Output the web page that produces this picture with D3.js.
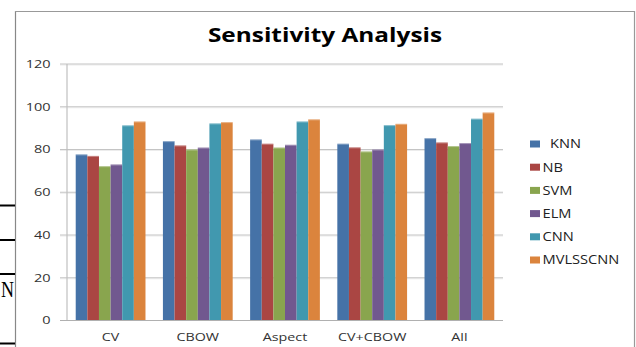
<!DOCTYPE html>
<html><head><meta charset="utf-8">
<script src="https://cdn.jsdelivr.net/npm/d3@7"></script>
<style>
html,body{margin:0;padding:0;background:#fff;}
svg{display:block;}
text{font-family:"Open Sans",sans-serif;}
</style></head>
<body>
<svg id="chart" width="636" height="347"></svg>
<script>
const categories = ["CV","CBOW","Aspect","CV+CBOW","All"];
const seriesNames = ["KNN","NB","SVM","ELM","CNN","MVLSSCNN"];
const legendLabels = ["  KNN","NB","SVM","ELM","CNN","MVLSSCNN"];
const KNN      = [77.7, 83.9, 84.7, 82.7, 85.3];
const NB       = [77.0, 81.9, 82.7, 81.0, 83.3];
const SVM      = [72.2, 80.0, 80.9, 79.1, 81.6];
const ELM      = [73.0, 80.9, 82.2, 80.0, 83.0];
const CNN      = [91.3, 92.2, 93.1, 91.4, 94.4];
const MVLSSCNN = [93.1, 92.8, 94.1, 92.0, 97.3];
const seriesValues = [KNN, NB, SVM, ELM, CNN, MVLSSCNN];
const colors = ["#4572A7","#AA4643","#89A54E","#71588F","#4198AF","#DB843D"];
const yTicks = [0,20,40,60,80,100,120];
const title = "Sensitivity Analysis";

(function(){
const svg = d3.select("#chart");

// page decorations (frame from the source document)
const deco = svg.append("g").attr("stroke","#000").attr("stroke-width",1.2);
deco.append("line").attr("x1",15.5).attr("x2",15.5).attr("y1",11).attr("y2",347).attr("stroke","#888");
deco.append("line").attr("x1",15).attr("x2",634.5).attr("y1",11.5).attr("y2",11.5).attr("stroke","#999");
deco.append("line").attr("x1",634.5).attr("x2",634.5).attr("y1",11).attr("y2",347).attr("stroke","#999");
[205.5,240,274,343.5].forEach(yy=>{
  deco.append("line").attr("x1",0).attr("x2",15).attr("y1",yy).attr("y2",yy).attr("stroke-width",2);
});
svg.append("text").attr("x",1).attr("y",297)
  .attr("font-size",24).attr("fill","#000").attr("textLength",13).attr("lengthAdjust","spacingAndGlyphs")
  .style("font-family","'Liberation Serif',serif").text("N");

const pL = 67, pR = 503, pT = 64, pB = 320.5;
const x0 = d3.scaleBand().domain(categories).range([pL,pR]).paddingInner(0.2).paddingOuter(0.1);
const x1 = d3.scaleBand().domain(seriesNames).range([0,x0.bandwidth()]);
const y = d3.scaleLinear().domain([0,120]).range([pB,pT]);

// gridlines
const grid = svg.append("g");
yTicks.forEach(t=>{
  if(t===0) return;
  grid.append("line").attr("x1",60).attr("x2",pR).attr("y1",y(t)+1).attr("y2",y(t)+1)
    .attr("stroke","#ececec").attr("stroke-width",1);
  grid.append("line").attr("x1",60).attr("x2",pR).attr("y1",y(t)).attr("y2",y(t))
    .attr("stroke","#c4c4c4").attr("stroke-width",1.2);
});
svg.append("line").attr("x1",pL).attr("x2",pL).attr("y1",pT).attr("y2",pB)
  .attr("stroke","#c0c0c0").attr("stroke-width",1.2);

// y tick labels
const yAxis = d3.axisLeft(y).tickValues(yTicks).tickSize(0).tickPadding(0);
const ya = svg.append("g").attr("transform",`translate(50.5,0)`).call(yAxis);
ya.select(".domain").remove();
ya.selectAll("text").attr("font-size",10.5).attr("fill","#333")
  .style("font-family","'Open Sans',sans-serif").attr("transform","scale(1.38,1)");

// bars
const groups = svg.append("g").selectAll("g").data(categories).join("g")
  .attr("transform",d=>`translate(${x0(d)},0)`);
const rows = (c,ci)=>seriesNames.map((s,si)=>({s,si,v:seriesValues[si][ci]}));
groups.selectAll("rect").data(rows).join("rect")
  .attr("x",d=>x1(d.s)).attr("width",x1.bandwidth())
  .attr("y",d=>y(d.v)).attr("height",d=>y(0)-y(d.v))
  .attr("fill",d=>colors[d.si]);
groups.selectAll("line.hl").data(rows).join("line").attr("class","hl")
  .attr("x1",d=>x1(d.s)).attr("x2",d=>x1(d.s)+x1.bandwidth())
  .attr("y1",d=>y(d.v)+0.5).attr("y2",d=>y(d.v)+0.5)
  .attr("stroke","#fff").attr("stroke-opacity",0.35);

// baseline
svg.append("line").attr("x1",60).attr("x2",pR).attr("y1",pB).attr("y2",pB)
  .attr("stroke","#b0b0b0").attr("stroke-width",1.2);

// x labels
const xAxis = d3.axisBottom(x0).tickSize(0).tickPadding(0);
const xa = svg.append("g").attr("transform",`translate(0,333)`).call(xAxis);
xa.select(".domain").remove();
xa.selectAll("text").attr("font-size",11).attr("fill","#333")
  .style("font-family","'Open Sans',sans-serif").attr("transform","scale(1.3,1)");

// title
svg.append("text").attr("transform","translate(325,42) scale(1.22,1)").attr("text-anchor","middle")
  .attr("font-size",20).attr("font-weight","bold").attr("fill","#000")
  .style("font-family","'Open Sans',sans-serif").text(title);

// legend
const lg = svg.append("g");
const ly = d3.scalePoint().domain(seriesNames).range([144,260]);
seriesNames.forEach((s,i)=>{
  lg.append("rect").attr("x",530).attr("y",ly(s)-3.5).attr("width",10).attr("height",7).attr("fill",colors[i]);
  lg.append("text").attr("transform",`translate(542.5,${ly(s)}) scale(1.22,1)`).attr("dy","0.36em")
    .attr("font-size",12).attr("fill","#222")
    .style("white-space","pre")
    .style("font-family","'Open Sans',sans-serif").text(legendLabels[i]);
});
})();
</script>
</body></html>
